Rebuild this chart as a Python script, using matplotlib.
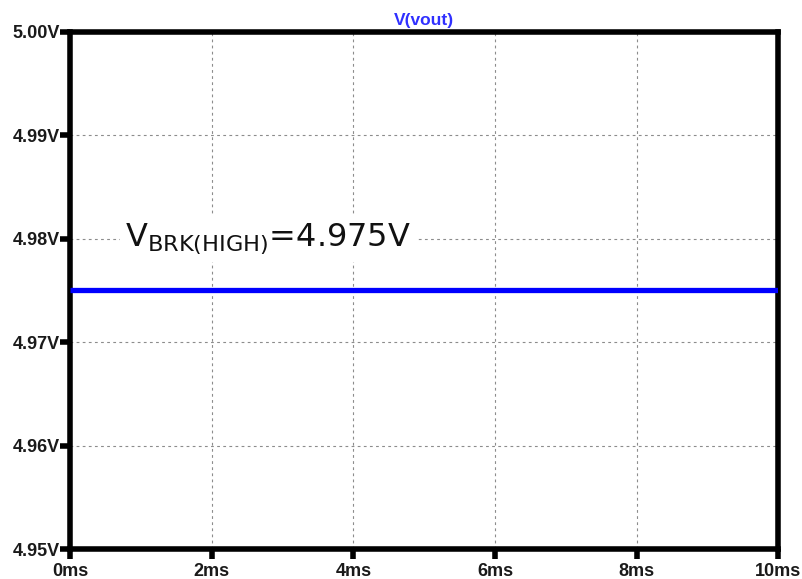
import numpy as np
import matplotlib.pyplot as plt

# simulated output, flat over the run
t_ms = [0, 10]
vout = [4.975, 4.975]

x_ticks = [0, 2, 4, 6, 8, 10]
x_labels = ['0ms', '2ms', '4ms', '6ms', '8ms', '10ms']
y_ticks = [4.95, 4.96, 4.97, 4.98, 4.99, 5.00]
y_labels = ['4.95V', '4.96V', '4.97V', '4.98V', '4.99V', '5.00V']

plt.rcParams['mathtext.fontset'] = 'dejavusans'

fig = plt.figure(figsize=(8.03, 5.79), dpi=100)
ax = fig.add_axes([0.0872, 0.0518, 0.882, 0.893])

ax.plot(t_ms, vout, color='#0000ff', lw=3.8, solid_capstyle='butt', zorder=3)

ax.set_xlim(0, 10)
ax.set_ylim(4.95, 5.00)
ax.set_xticks(x_ticks)
ax.set_xticklabels(x_labels)
ax.set_yticks(y_ticks)
ax.set_yticklabels(y_labels)

for lbl in ax.get_xticklabels() + ax.get_yticklabels():
    lbl.set_fontfamily('Liberation Sans')
    lbl.set_fontweight('bold')
    lbl.set_fontsize(13)
    lbl.set_color('#1a1a1a')

ax.tick_params(direction='out', length=7, width=4, color='black')
ax.tick_params(axis='y', pad=0)
ax.tick_params(axis='x', pad=3)

for s in ax.spines.values():
    s.set_linewidth(4)
    s.set_color('black')

ax.grid(True, color='#8c8c8c', lw=0.8, ls=(0, (2.5, 3)))
ax.set_axisbelow(True)

ax.set_title('V(vout)', color='#3030ff', fontweight='bold', fontsize=12.5,
             fontfamily='Liberation Sans', pad=5)

ax.text(0.78, 4.98, r'V$_{\mathregular{BRK(HIGH)}}$=4.975V', fontsize=23,
        fontfamily='DejaVu Sans', color='#111111', va='center', ha='left',
        bbox=dict(facecolor='white', edgecolor='none', pad=4), zorder=4)

fig.savefig('out.png', dpi=100)
